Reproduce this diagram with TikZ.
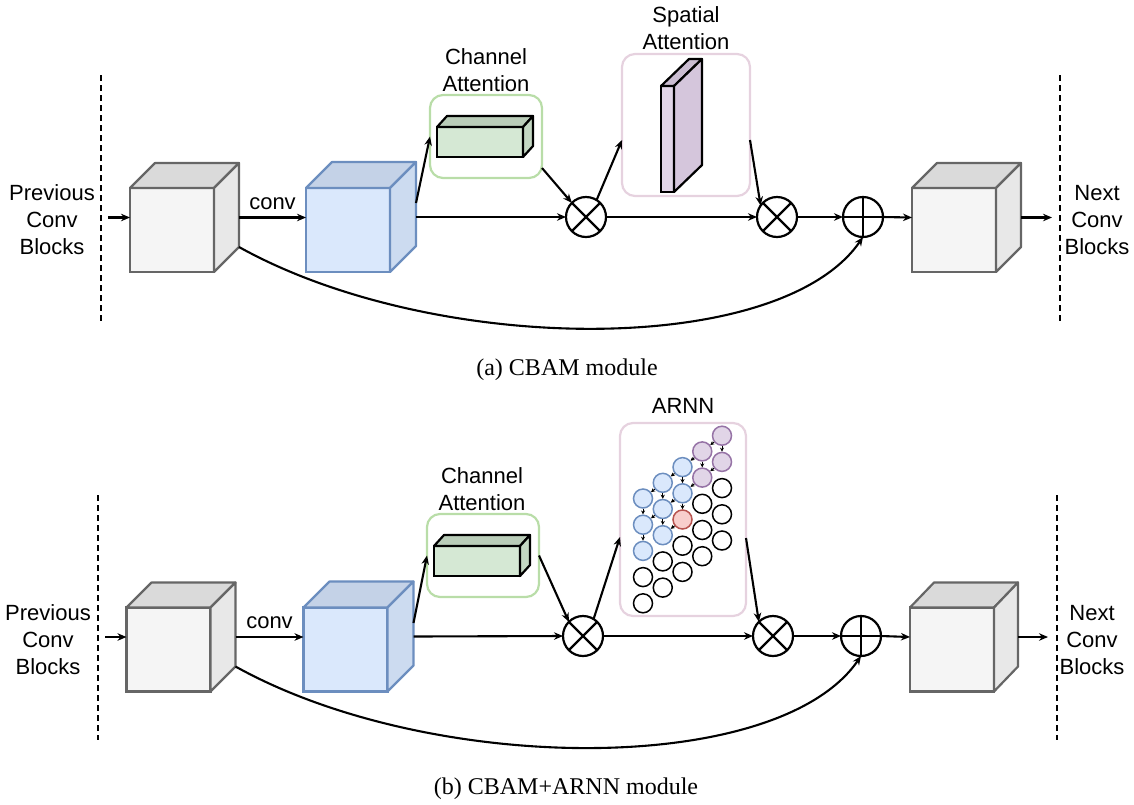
\documentclass[tikz,border=0pt]{standalone}
\usepackage{fontspec}
\setmainfont{Liberation Serif}
\setsansfont{Liberation Sans}
\usetikzlibrary{arrows.meta,calc}

% face colours
\definecolor{gfront}{HTML}{F5F5F5}
\definecolor{gtop}{HTML}{DADADA}
\definecolor{gside}{HTML}{E8E8E8}
\definecolor{gline}{HTML}{666666}
\definecolor{bfront}{HTML}{DAE8FC}
\definecolor{btop}{HTML}{C4D2E7}
\definecolor{bside}{HTML}{CCDBF0}
\definecolor{bline}{HTML}{6C8EBF}
\definecolor{gcfront}{HTML}{D5E8D4}
\definecolor{gctop}{HTML}{BACDB9}
\definecolor{gcside}{HTML}{C4D8C3}
\definecolor{pfront}{HTML}{E1D5E7}
\definecolor{ptop}{HTML}{CBBDD2}
\definecolor{pside}{HTML}{D5C6DC}
\definecolor{greenline}{HTML}{B9DDA8}
\definecolor{pinkline}{HTML}{E6D2DF}
\definecolor{cblue}{HTML}{DAE8FC}
\definecolor{cblueline}{HTML}{6C8EBF}
\definecolor{cpurple}{HTML}{E1D5E7}
\definecolor{cpurpleline}{HTML}{9673A6}
\definecolor{cred}{HTML}{F8CECC}
\definecolor{credline}{HTML}{B85450}

% top and right faces of a box whose front face is node #1
\newcommand\cubefaces[6]{%
  \filldraw[face, fill=#4, draw=#6]
    (#1.north west) -- ++(#2,-#3) -- ($(#1.north east)+(#2,-#3)$) -- (#1.north east) -- cycle;
  \filldraw[face, fill=#5, draw=#6]
    (#1.north east) -- ($(#1.north east)+(#2,-#3)$) -- ($(#1.south east)+(#2,-#3)$) -- (#1.south east) -- cycle;
}

\tikzset{
  face/.style={line width=2.2pt, line join=round},
  front/.style={draw, minimum width=84pt, minimum height=84pt, inner sep=0, outer sep=0, line width=2.2pt},
  graycube/.style={front, fill=gfront, draw=gline},
  bluecube/.style={front, fill=bfront, draw=bline},
  prism/.style={draw=black, inner sep=0, outer sep=0, line width=2.2pt},
  op/.style={circle, draw, minimum size=40pt, inner sep=0, outer sep=0, line width=2.2pt},
  otimes/.style={op, path picture={
      \draw[line width=2.2pt] (path picture bounding box.north west) -- (path picture bounding box.south east)
                               (path picture bounding box.north east) -- (path picture bounding box.south west);}},
  oplus/.style={op, path picture={
      \draw[line width=2.2pt] (path picture bounding box.north) -- (path picture bounding box.south)
                               (path picture bounding box.west) -- (path picture bounding box.east);}},
  panel/.style={draw, rounded corners=13pt, line width=2.2pt, inner sep=0, outer sep=0},
  arr/.style={-{Stealth[length=9pt,width=7.5pt]}, line width=2.1pt},
  dashline/.style={dash pattern=on 6pt off 4pt, line width=1.8pt},
  txt/.style={align=center, inner sep=0},
  caption/.style={inner sep=0, font=\rmfamily\fontsize{24}{29}\selectfont},
  cell/.style={circle, minimum size=19pt, inner sep=0, line width=1.5pt},
  bluecell/.style={cell, draw=cblueline, fill=cblue},
  purplecell/.style={cell, draw=cpurpleline, fill=cpurple},
  redcell/.style={cell, draw=credline, fill=cred},
  whitecell/.style={cell, draw=black, fill=white},
  tip/.style={-{Stealth[length=4pt,width=4pt]}, line width=1pt},
}

\begin{document}
\begin{tikzpicture}[x=1pt, y=-1pt, font=\sffamily\fontsize{22}{27}\selectfont]
\useasboundingbox (0,0) rectangle (1134,804);

% ================= (a) CBAM module =================
\coordinate (dla1) at (101,75);  \coordinate (dla2) at (101,322);
\coordinate (dra1) at (1060,75); \coordinate (dra2) at (1060,322);
\draw[dashline] (dla1) -- (dla2);
\draw[dashline] (dra1) -- (dra2);

\node[txt] (preva) at (52,220) {Previous\\Conv\\Blocks};
\node[txt] (nexta) at (1097,220) {Next\\Conv\\Blocks};

\node[graycube] (ga) at (172,230) {};
\cubefaces{ga}{25}{25}{gtop}{gside}{gline}
\node[bluecube] (ba) at (348,230) {};
\cubefaces{ba}{26}{26}{btop}{bside}{bline}
\node[graycube] (ra) at (954,230) {};
\cubefaces{ra}{25}{25}{gtop}{gside}{gline}

\node[otimes] (m1a) at (586,217) {};
\node[otimes] (m2a) at (777,217) {};
\node[oplus] (pa) at (863,217) {};

\node[panel, draw=greenline, minimum width=112pt, minimum height=83pt] (cha) at (486,136.5) {};
\node[prism, fill=gcfront, minimum width=86pt, minimum height=30pt] (gca) at (480,142) {};
\cubefaces{gca}{10}{11}{gctop}{gcside}{black}
\node[txt] (chta) at (486,70) {Channel\\Attention};

\node[panel, draw=pinkline, minimum width=128pt, minimum height=142pt] (spa) at (686,125) {};
\node[prism, fill=pfront, minimum width=13pt, minimum height=106pt] (sla) at (667.5,139) {};
\cubefaces{sla}{28}{27}{ptop}{pside}{black}
\node[txt] (spta) at (686,28) {Spatial\\Attention};

\coordinate (ina) at (108,217.5);
\coordinate (outa) at (1052,217.5);
\draw[arr] (ina) -- ([yshift=12.5pt]ga.west);
\draw[arr] ([xshift=25pt,yshift=12.5pt]ga.east) -- node[above=7pt, inner sep=0] {conv} ([yshift=12.5pt]ba.west);
\draw[arr] ([xshift=26pt,yshift=13pt]ba.east) -- (m1a.west);
\draw[arr] ([xshift=26pt,yshift=27pt]ba.east) -- (cha.west);
\draw[arr] ([yshift=-31.5pt]cha.east) -- (m1a.north west);
\draw[arr] (m1a.58) -- ([yshift=-15pt]spa.west);
\draw[arr] ([yshift=-15pt]spa.east) -- (m2a.145);
\draw[arr] (m1a.east) -- (m2a.west);
\draw[arr] (m2a.east) -- (pa.west);
\draw[arr] (pa.east) -- ([yshift=12.5pt]ra.west);
\draw[arr] ([xshift=25pt,yshift=12.5pt]ra.east) -- (outa);
\draw[arr] ([xshift=25pt,yshift=25pt]ga.south east) .. controls +(196,109) and +(-83,121) .. (pa.south);

\node[caption] (capa) at (567,370) {(a) CBAM module};

% ================= (b) CBAM+ARNN module =================
\coordinate (dlb1) at (98,495);   \coordinate (dlb2) at (98,740);
\coordinate (drb1) at (1057,495); \coordinate (drb2) at (1057,740);
\draw[dashline] (dlb1) -- (dlb2);
\draw[dashline] (drb1) -- (drb2);

\node[txt] (prevb) at (48,640) {Previous\\Conv\\Blocks};
\node[txt] (nextb) at (1092,640) {Next\\Conv\\Blocks};

\node[graycube] (gb) at (168.5,649.5) {};
\cubefaces{gb}{25}{25}{gtop}{gside}{gline}
\node[bluecube] (bb) at (345.5,649.5) {};
\cubefaces{bb}{26}{26}{btop}{bside}{bline}
\node[graycube] (rb) at (952,649.5) {};
\cubefaces{rb}{24}{25}{gtop}{gside}{gline}

\node[otimes] (m1b) at (583,636) {};
\node[otimes] (m2b) at (773,636) {};
\node[oplus] (pb) at (861,636) {};

\node[panel, draw=greenline, minimum width=112pt, minimum height=83pt] (chb) at (483,555.5) {};
\node[prism, fill=gcfront, minimum width=86pt, minimum height=30pt] (gcb) at (477,561) {};
\cubefaces{gcb}{10}{11}{gctop}{gcside}{black}
\node[txt] (chtb) at (482,489) {Channel\\Attention};

\node[panel, draw=pinkline, minimum width=126pt, minimum height=193pt] (arnn) at (683,519.5) {};
\node[txt] (arnnt) at (683,406) {ARNN};

% ARNN cell grid: column c, row r
\foreach \c/\r/\k in {0/0/bluecell, 0/1/bluecell, 0/2/bluecell, 0/3/whitecell, 0/4/whitecell,
                      1/0/bluecell, 1/1/bluecell, 1/2/bluecell, 1/3/whitecell, 1/4/whitecell,
                      2/0/bluecell, 2/1/bluecell, 2/2/redcell,  2/3/whitecell, 2/4/whitecell,
                      3/0/purplecell, 3/1/purplecell, 3/2/whitecell, 3/3/whitecell, 3/4/whitecell,
                      4/0/purplecell, 4/1/purplecell, 4/2/whitecell, 4/3/whitecell, 4/4/whitecell}
  \node[\k] (c\c\r) at ({643+19.75*\c},{498.5-15.7*\c+26.2*\r}) {};
\foreach \a/\b in {00/01, 01/02, 10/11, 11/12, 20/21, 21/22, 30/31, 40/41,
                   10/00, 11/01, 20/10, 21/11, 22/12, 30/20, 31/21, 40/30, 41/31}
  \draw[tip] (c\a) -- (c\b);

\coordinate (inb) at (105,637);
\coordinate (outb) at (1048,637);
\draw[arr] (inb) -- ([yshift=12.5pt]gb.west);
\draw[arr] ([xshift=25pt,yshift=12.5pt]gb.east) -- node[above=7pt, inner sep=0] {conv} ([yshift=12.5pt]bb.west);
\draw[arr] ([xshift=26pt,yshift=13pt]bb.east) -- (m1b.west);
\draw[arr] ([xshift=26pt,yshift=26.5pt]bb.east) -- (chb.west);
\draw[arr] (chb.east) -- (m1b.north west);
\draw[arr] (m1b.58) -- ([yshift=-17.5pt]arnn.west);
\draw[arr] ([yshift=-18.5pt]arnn.east) -- (m2b.north west);
\draw[arr] (m1b.east) -- (m2b.west);
\draw[arr] (m2b.east) -- (pb.west);
\draw[arr] (pb.east) -- ([yshift=12.5pt]rb.west);
\draw[arr] ([xshift=24pt,yshift=12.5pt]rb.east) -- (outb);
\draw[arr] ([xshift=25pt,yshift=25pt]gb.south east) .. controls +(196,109) and +(-83,121) .. (pb.south);

\node[caption] (capb) at (566,789) {(b) CBAM+ARNN module};
\end{tikzpicture}
\end{document}
